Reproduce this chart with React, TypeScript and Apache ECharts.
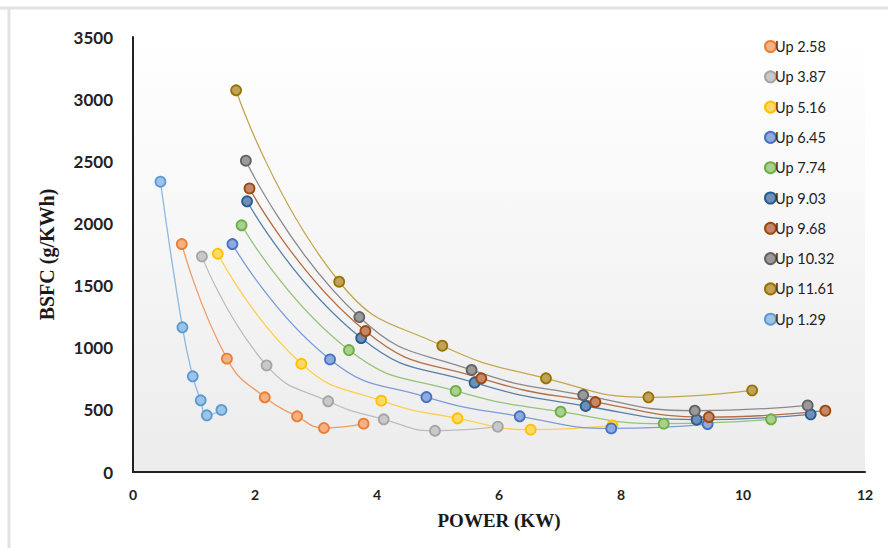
import React, { useEffect, useRef } from "react";
import * as echarts from "echarts";

const seriesNames = ["Up 2.58", "Up 3.87", "Up 5.16", "Up 6.45", "Up 7.74", "Up 9.03", "Up 9.68", "Up 10.32", "Up 11.61", "Up 1.29"];

const power258 = [0.8, 1.54, 2.16, 2.69, 3.13, 3.78];
const bsfc258 = [1834, 912, 601, 448, 354, 389];

const power387 = [1.13, 2.19, 3.2, 4.11, 4.95, 5.98];
const bsfc387 = [1735, 858, 569, 424, 332, 365];

const power516 = [1.39, 2.76, 4.07, 5.32, 6.52, 7.86];
const bsfc516 = [1756, 871, 574, 432, 341, 375];

const power645 = [1.63, 3.23, 4.81, 6.34, 7.84, 9.42];
const bsfc645 = [1834, 906, 603, 448, 351, 386];

const power774 = [1.78, 3.54, 5.29, 7.01, 8.7, 10.46];
const bsfc774 = [1985, 981, 652, 485, 389, 424];

const power903 = [1.87, 3.74, 5.6, 7.42, 9.24, 11.11];
const bsfc903 = [2178, 1078, 719, 531, 421, 464];

const power968 = [1.91, 3.81, 5.71, 7.58, 9.44, 11.35];
const bsfc968 = [2282, 1134, 754, 563, 442, 493];

const power1032 = [1.85, 3.71, 5.55, 7.38, 9.21, 11.06];
const bsfc1032 = [2505, 1247, 821, 619, 493, 536];

const power1161 = [1.69, 3.38, 5.07, 6.77, 8.45, 10.15];
const bsfc1161 = [3071, 1531, 1016, 754, 601, 657];

const power129 = [0.45, 0.81, 0.98, 1.11, 1.21, 1.45];
const bsfc129 = [2336, 1164, 770, 577, 456, 499];

const xTicks = [0, 2, 4, 6, 8, 10, 12];
const yTicks = [0, 500, 1000, 1500, 2000, 2500, 3000, 3500];

const powers = [power258, power387, power516, power645, power774, power903, power968, power1032, power1161, power129];
const bsfcs = [bsfc258, bsfc387, bsfc516, bsfc645, bsfc774, bsfc903, bsfc968, bsfc1032, bsfc1161, bsfc129];

const borderColors = ["#ED7D31", "#A5A5A5", "#FFC000", "#4472C4", "#70AD47", "#255E91", "#9E480E", "#636363", "#997300", "#5B9BD5"];
const fillColors = ["#F4B183", "#C9C9C9", "#FFD966", "#8FAADC", "#A9D18E", "#6F8FB8", "#C5876A", "#9A9A9A", "#C0A35A", "#9DC3E6"];
const lineColors = ["#F19B64", "#BDBDBD", "#FFD04D", "#7D9BD6", "#95C377", "#5A7FA8", "#B56E45", "#8A8A8A", "#C4A64D", "#8DB8E2"];

export default function App() {
  const ref = useRef<HTMLDivElement>(null);
  useEffect(() => {
    document.body.style.margin = "0";
    const chart = echarts.init(ref.current!, null, { renderer: "svg" });
    const series = seriesNames.map((name, i) => ({
      name,
      type: "line",
      smooth: 0.5,
      symbol: "circle",
      symbolSize: 10,
      data: powers[i].map((p, j) => [p, bsfcs[i][j]]),
      lineStyle: { color: lineColors[i], width: 1.3 },
      itemStyle: { color: fillColors[i], borderColor: borderColors[i], borderWidth: 1.8 },
      z: 2,
    }));
    chart.setOption({
      animation: false,
      backgroundColor: "#ffffff",
      grid: {
        left: 133,
        right: 23,
        top: 37,
        bottom: 76,
        show: true,
        borderWidth: 0,
        backgroundColor: {
          type: "linear",
          x: 0,
          y: 0,
          x2: 0,
          y2: 1,
          colorStops: [
            { offset: 0, color: "#ffffff" },
            { offset: 1, color: "#ececec" },
          ],
        },
      },
      legend: {
        orient: "vertical",
        left: 759,
        top: 34,
        icon: "circle",
        itemWidth: 11,
        itemHeight: 11,
        itemGap: 15.3,
        textStyle: { fontFamily: "Lato", fontSize: 14.5, color: "#222", padding: [0, 0, 0, -6], lineHeight: 15 },
        data: seriesNames,
      },
      xAxis: {
        type: "value",
        min: xTicks[0],
        max: xTicks[xTicks.length - 1],
        interval: 2,
        name: "POWER (KW)",
        nameLocation: "middle",
        nameGap: 39,
        nameTextStyle: { fontFamily: "Liberation Serif", fontWeight: "bold", fontSize: 19, color: "#1a1a1a" },
        axisLine: { show: true, lineStyle: { color: "#222", width: 2 } },
        axisTick: { show: false },
        splitLine: { show: false },
        axisLabel: { fontFamily: "Lato", fontWeight: "bold", fontSize: 14, color: "#222", margin: 15, formatter: (v: number) => String(v) },
      },
      yAxis: {
        type: "value",
        min: yTicks[0],
        max: yTicks[yTicks.length - 1],
        interval: 500,
        name: "BSFC (g/KWh)",
        nameLocation: "middle",
        nameGap: 76,
        nameTextStyle: { fontFamily: "Liberation Serif", fontWeight: "bold", fontSize: 20, color: "#1a1a1a" },
        axisLine: { show: true, lineStyle: { color: "#222", width: 2 } },
        axisTick: { show: false },
        splitLine: { show: false },
        axisLabel: { fontFamily: "Lato", fontWeight: "bold", fontSize: 17, color: "#222", margin: 20, formatter: (v: number) => String(v) },
      },
      graphic: [
        { type: "line", shape: { x1: 0, y1: 8, x2: 888, y2: 8 }, style: { stroke: "#e2e2e2", lineWidth: 3 }, silent: true },
        { type: "line", shape: { x1: 9, y1: 8, x2: 9, y2: 548 }, style: { stroke: "#e2e2e2", lineWidth: 3 }, silent: true },
      ],
      series,
    });
    return () => chart.dispose();
  }, []);
  return <div ref={ref} style={{ width: 888, height: 548 }} />;
}
